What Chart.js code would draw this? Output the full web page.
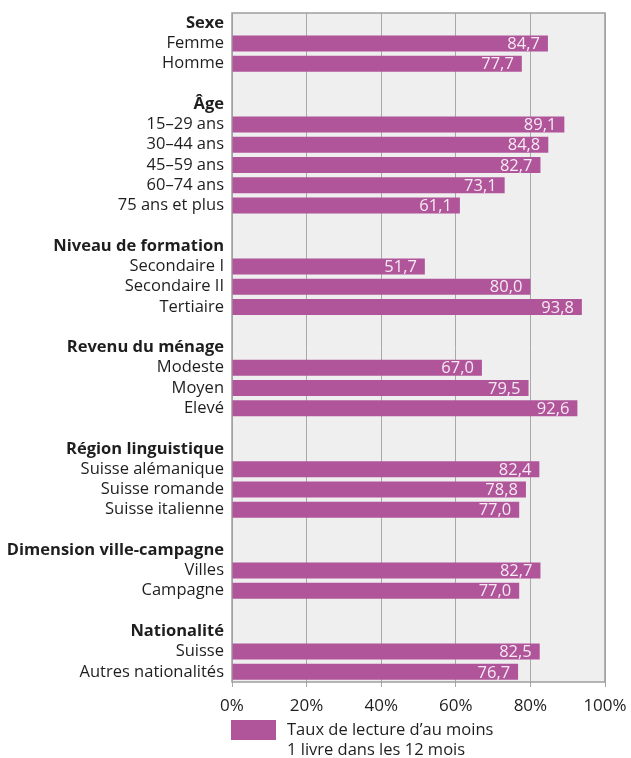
<!DOCTYPE html>
<html>
<head>
<meta charset="utf-8">
<script src="https://cdn.jsdelivr.net/npm/chart.js@4.4.1/dist/chart.umd.min.js"></script>
<style>
  body { margin: 0; background: #fff; }
  #wrap { width: 631px; height: 758px; }
</style>
</head>
<body>
<div id="wrap"><canvas id="chart" width="631" height="758"></canvas></div>
<script>
// données
const categories = [
    'Sexe', 'Femme', 'Homme', '',
    'Âge', '15–29 ans', '30–44 ans', '45–59 ans', '60–74 ans', '75 ans et plus', '',
    'Niveau de formation', 'Secondaire I', 'Secondaire II', 'Tertiaire', '',
    'Revenu du ménage', 'Modeste', 'Moyen', 'Elevé', '',
    'Région linguistique', 'Suisse alémanique', 'Suisse romande', 'Suisse italienne', '',
    'Dimension ville-campagne', 'Villes', 'Campagne', '',
    'Nationalité', 'Suisse', 'Autres nationalités'
];
const values = [
    null, 84.7, 77.7, null,
    null, 89.1, 84.8, 82.7, 73.1, 61.1, null,
    null, 51.7, 80.0, 93.8, null,
    null, 67.0, 79.5, 92.6, null,
    null, 82.4, 78.8, 77.0, null,
    null, 82.7, 77.0, null,
    null, 82.5, 76.7
];
const headers = ['Sexe', 'Âge', 'Niveau de formation', 'Revenu du ménage',
    'Région linguistique', 'Dimension ville-campagne', 'Nationalité'];
const xTicks = [0, 20, 40, 60, 80, 100];
const seriesLabel = ["Taux de lecture d\u2019au moins", '1 livre dans les 12 mois'];

const FONT = '"Open Sans", "DejaVu Sans", sans-serif';
const BAR_COLOR = '#b0559a';

// fond gris + cadre
const plotBox = {
    id: 'plotBox',
    beforeDraw(chart) {
        const a = chart.chartArea, ctx = chart.ctx;
        ctx.save();
        ctx.fillStyle = '#efefef';
        ctx.fillRect(a.left, a.top, a.right - a.left, a.bottom - a.top);
        ctx.restore();
    },
    beforeDatasetsDraw(chart) {
        const a = chart.chartArea, ctx = chart.ctx;
        ctx.save();
        ctx.strokeStyle = '#9e9e9e';
        ctx.lineWidth = 1.5;
        ctx.strokeRect(a.left, a.top, a.right - a.left, a.bottom - a.top);
        ctx.restore();
    }
};

// valeurs dans les barres
const valueLabels = {
    id: 'valueLabels',
    afterDatasetsDraw(chart) {
        const ctx = chart.ctx;
        const meta = chart.getDatasetMeta(0);
        ctx.save();
        ctx.font = '16.5px ' + FONT;
        ctx.fillStyle = '#f6eaf3';
        ctx.textAlign = 'right';
        ctx.textBaseline = 'middle';
        meta.data.forEach((bar, i) => {
            const v = values[i];
            if (v === null) return;
            ctx.fillText(v.toFixed(1).replace('.', ','), bar.x - 8, bar.y + 1);
        });
        ctx.restore();
    }
};

// légende en bas
const legendBox = {
    id: 'legendBox',
    afterDraw(chart) {
        const ctx = chart.ctx;
        const x = chart.chartArea.left - 1;
        ctx.save();
        ctx.fillStyle = BAR_COLOR;
        ctx.fillRect(x, 720, 45, 20);
        ctx.fillStyle = '#1e1e1e';
        ctx.font = '16.5px ' + FONT;
        ctx.textAlign = 'left';
        ctx.textBaseline = 'middle';
        ctx.fillText(seriesLabel[0], x + 56, 730);
        ctx.fillText(seriesLabel[1], x + 56, 750);
        ctx.restore();
    }
};

function createChart() {
    const ctx = document.getElementById('chart').getContext('2d');
    new Chart(ctx, {
        type: 'bar',
        data: {
            labels: categories,
            datasets: [{
                label: seriesLabel.join(' '),
                data: values,
                backgroundColor: BAR_COLOR,
                borderWidth: 0,
                categoryPercentage: 1,
                barPercentage: 0.79
            }]
        },
        options: {
            indexAxis: 'y',
            responsive: false,
            animation: false,
            layout: { padding: { top: 13, right: 26, left: 0, bottom: 0 } },
            plugins: {
                legend: { display: false },
                tooltip: { enabled: false }
            },
            scales: {
                x: {
                    min: 0,
                    max: 100,
                    afterBuildTicks(scale) {
                        scale.ticks = xTicks.map(v => ({ value: v }));
                    },
                    afterFit(scale) {
                        scale.height = 76;
                        scale.paddingLeft = 0;
                        scale.paddingRight = 0;
                    },
                    grid: { color: '#a8a8a8', lineWidth: 1, tickLength: 5, drawOnChartArea: true },
                    border: { display: false },
                    ticks: {
                        color: '#1e1e1e',
                        font: { family: FONT, size: 17 },
                        padding: 9,
                        maxRotation: 0,
                        callback: v => v + '%'
                    }
                },
                y: {
                    afterFit(scale) {
                        scale.width = 232;
                        scale.paddingTop = 0;
                        scale.paddingBottom = 0;
                    },
                    grid: { display: false, drawTicks: false },
                    border: { display: false },
                    ticks: {
                        autoSkip: false,
                        padding: 8,
                        color: '#1e1e1e',
                        font(c) {
                            const isHeader = headers.includes(categories[c.index]);
                            return { family: FONT, size: 16.5, weight: isHeader ? 'bold' : 'normal' };
                        }
                    }
                }
            }
        },
        plugins: [plotBox, valueLabels, legendBox]
    });
}

document.addEventListener('DOMContentLoaded', function() {
    createChart();
});
</script>
</body>
</html>
